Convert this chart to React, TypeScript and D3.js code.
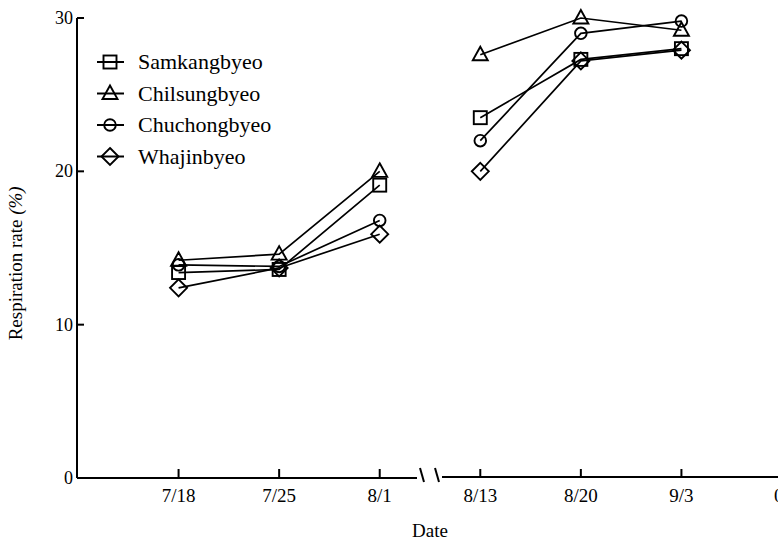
import React from 'react';
import { scaleLinear, line } from 'd3';

// date index 1..6 on the x scale, 7 is the clipped label at the right edge
const dates = ["7/18", "7/25", "8/1", "8/13", "8/20", "9/3"];
const extraLabel = "0";
const yTicks = [0, 10, 20, 30];

const samkang = [13.4, 13.6, 19.1, 23.5, 27.3, 28.0];
const chilsung = [14.2, 14.6, 20.0, 27.6, 30.0, 29.2];
const chuchong = [13.9, 13.8, 16.8, 22.0, 29.0, 29.8];
const whajin = [12.4, 13.7, 15.9, 20.0, 27.2, 27.9];

const seriesNames = ["Samkangbyeo", "Chilsungbyeo", "Chuchongbyeo", "Whajinbyeo"];
const seriesShapes = ["square", "triangle", "circle", "diamond"];

const W = 778;
const H = 541;
const FONT = '"Liberation Serif", "DejaVu Serif", serif';

const x = scaleLinear().domain([0, 7]).range([78, 782]);
const y = scaleLinear().domain([0, 30]).range([478, 18]);

const Marker = ({ shape, cx, cy }: { shape: string; cx: number; cy: number }) => {
  const st = { fill: "none", stroke: "black", strokeWidth: 1.9 };
  if (shape === "square") return <rect x={cx - 6.5} y={cy - 6.5} width={13} height={13} {...st} />;
  if (shape === "circle") return <circle cx={cx} cy={cy} r={5.8} {...st} />;
  if (shape === "triangle")
    return <path d={`M${cx},${cy - 8} L${cx + 7.5},${cy + 5.5} L${cx - 7.5},${cy + 5.5} Z`} {...st} />;
  return <path d={`M${cx},${cy - 8.5} L${cx + 8.5},${cy} L${cx},${cy + 8.5} L${cx - 8.5},${cy} Z`} {...st} />;
};

const App = () => {
  const all = [samkang, chilsung, chuchong, whajin];
  const path = line<number>()
    .x((_, i) => x(i + 1))
    .y((d) => y(d));
  const pathB = line<number>()
    .x((_, i) => x(i + 4))
    .y((d) => y(d));
  const brk = x(3.5);
  const y0 = y(0);

  return (
    <svg width={W} height={H} style={{ position: "absolute", left: 0, top: 0, background: "white" }}>
      {/* y axis */}
      <line x1={x(0) - 1} x2={x(0) - 1} y1={y(30)} y2={y0} stroke="black" strokeWidth={2} />
      {yTicks.map((t) => (
        <g key={t}>
          <line x1={x(0) - 1} x2={x(0) + 6} y1={y(t)} y2={y(t)} stroke="black" strokeWidth={2} />
          <text x={x(0) - 5} y={y(t) + 6} textAnchor="end" fontFamily={FONT} fontSize={18}>
            {t}
          </text>
        </g>
      ))}
      <text
        transform={`translate(22, ${y(14)}) rotate(-90)`}
        textAnchor="middle"
        fontFamily={FONT}
        fontSize={19}
      >
        Respiration rate <tspan fontStyle="italic">(%)</tspan>
      </text>

      {/* x axis with break */}
      <line x1={x(0) - 1} x2={brk - 13} y1={y0} y2={y0} stroke="black" strokeWidth={2} />
      <line x1={brk + 12} x2={W} y1={y0 - 1} y2={y0 - 1} stroke="black" strokeWidth={2} />
      <line x1={brk - 10} x2={brk - 6} y1={y0 - 10} y2={y0 + 4} stroke="black" strokeWidth={2} />
      <line x1={brk + 5} x2={brk + 9} y1={y0 - 10} y2={y0 + 4} stroke="black" strokeWidth={2} />
      {dates.map((d, i) => (
        <g key={d}>
          <line x1={x(i + 1)} x2={x(i + 1)} y1={y0} y2={y0 - 9} stroke="black" strokeWidth={2} />
          <text x={x(i + 1)} y={y0 + 24} textAnchor="middle" fontFamily={FONT} fontSize={19}>
            {d}
          </text>
        </g>
      ))}
      <text x={x(7) - 8} y={y0 + 24} textAnchor="start" fontFamily={FONT} fontSize={19}>
        {extraLabel}
      </text>
      <text x={x(3.5)} y={y0 + 59} textAnchor="middle" fontFamily={FONT} fontSize={19}>
        Date
      </text>

      {/* series */}
      {all.map((s, k) => (
        <g key={k}>
          <path d={path(s.slice(0, 3)) || ""} fill="none" stroke="black" strokeWidth={1.7} />
          <path d={pathB(s.slice(3)) || ""} fill="none" stroke="black" strokeWidth={1.7} />
        </g>
      ))}
      {all.map((s, k) =>
        s.map((v, i) => <Marker key={`${k}-${i}`} shape={seriesShapes[k]} cx={x(i + 1)} cy={y(v)} />)
      )}

      {/* legend */}
      {seriesNames.map((n, k) => {
        const ly = 62 + k * 31.5;
        return (
          <g key={n}>
            <line x1={97} x2={124} y1={ly} y2={ly} stroke="black" strokeWidth={2} />
            <Marker shape={seriesShapes[k]} cx={110} cy={ly} />
            <text x={138} y={ly + 7} fontFamily={FONT} fontSize={22}>
              {n}
            </text>
          </g>
        );
      })}
    </svg>
  );
};

export default App;
